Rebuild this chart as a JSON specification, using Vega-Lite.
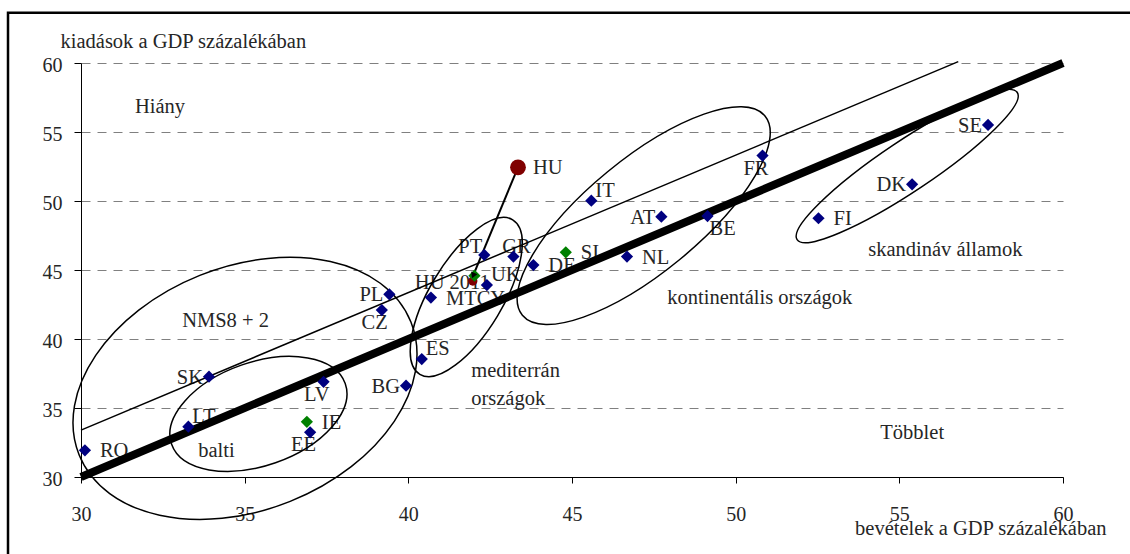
{
  "$schema": "https://vega.github.io/schema/vega-lite/v6.json",
  "width": 982,
  "height": 414,
  "autosize": "none",
  "padding": {"left": 81, "top": 63, "right": 67, "bottom": 77},
  "background": "white",
  "config": {
    "view": {"stroke": null},
    "font": "Liberation Serif",
    "text": {"font": "Liberation Serif", "fontSize": 20.5, "color": "#262626", "baseline": "middle"},
    "axis": {
      "labelFont": "Liberation Serif",
      "labelFontSize": 20,
      "labelColor": "#262626",
      "titleFont": "Liberation Serif",
      "titleFontSize": 20.5,
      "titleFontWeight": "normal",
      "titleColor": "#262626",
      "domainColor": "#000000",
      "tickColor": "#000000",
      "domainWidth": 1,
      "tickWidth": 1
    }
  },
  "datasets": {
    "frame": [
      {"x": 27.77, "x2": 62.5, "y": 63.64, "y2": 24}
    ],
    "countries": [
      {"code": "RO", "x": 30.12, "y": 31.93, "kind": "eu"},
      {"code": "SK", "x": 33.91, "y": 37.27, "kind": "eu"},
      {"code": "LT", "x": 33.28, "y": 33.65, "kind": "eu"},
      {"code": "LV", "x": 37.41, "y": 36.9, "kind": "eu"},
      {"code": "EE", "x": 37.0, "y": 33.24, "kind": "eu"},
      {"code": "IE", "x": 36.9, "y": 34.0, "kind": "green"},
      {"code": "PL", "x": 39.42, "y": 43.24, "kind": "eu"},
      {"code": "CZ", "x": 39.19, "y": 42.1, "kind": "eu"},
      {"code": "BG", "x": 39.93, "y": 36.62, "kind": "eu"},
      {"code": "ES", "x": 40.41, "y": 38.55, "kind": "eu"},
      {"code": "MTCY", "x": 40.69, "y": 43.0, "kind": "eu"},
      {"code": "PT", "x": 42.32, "y": 46.09, "kind": "eu"},
      {"code": "GR", "x": 43.21, "y": 45.97, "kind": "eu"},
      {"code": "UK", "x": 42.4, "y": 43.91, "kind": "eu"},
      {"code": "DE", "x": 43.82, "y": 45.36, "kind": "eu"},
      {"code": "SI", "x": 44.81, "y": 46.28, "kind": "green"},
      {"code": "NL", "x": 46.68, "y": 45.97, "kind": "eu"},
      {"code": "IT", "x": 45.59, "y": 50.02, "kind": "eu"},
      {"code": "AT", "x": 47.73, "y": 48.86, "kind": "eu"},
      {"code": "BE", "x": 49.14, "y": 48.91, "kind": "eu"},
      {"code": "FR", "x": 50.82, "y": 53.29, "kind": "eu"},
      {"code": "FI", "x": 52.53, "y": 48.75, "kind": "eu"},
      {"code": "DK", "x": 55.39, "y": 51.21, "kind": "eu"},
      {"code": "SE", "x": 57.71, "y": 55.51, "kind": "eu"},
      {"code": "HU 2011", "x": 41.97, "y": 44.2, "kind": "hu2011"},
      {"code": "", "x": 42.02, "y": 44.59, "kind": "green"},
      {"code": "HU", "x": 43.35, "y": 52.44, "kind": "hu"}
    ],
    "lines": [
      {"line": "egyensúly", "x": 30, "y": 30},
      {"line": "egyensúly", "x": 60, "y": 60},
      {"line": "párhuzamos", "x": 30, "y": 33.4},
      {"line": "párhuzamos", "x": 56.8, "y": 60.1},
      {"line": "nyíl", "x": 43.35, "y": 52.44},
      {"line": "nyíl", "x": 41.98, "y": 44.6}
    ],
    "ellipses": [
      {"group": "NMS8 + 2", "x": 35.01, "y": 36.42},
      {"group": "balti", "x": 35.42, "y": 34.57},
      {"group": "mediterrán", "x": 41.77, "y": 43.04},
      {"group": "kontinentális", "x": 47.19, "y": 48.94},
      {"group": "skandináv", "x": 55.24, "y": 52.53}
    ],
    "notes": [
      {"text": "Hiány", "x": 31.65, "y": 56.84},
      {"text": "NMS8 + 2", "x": 33.09, "y": 41.27},
      {"text": "balti", "x": 33.58, "y": 31.85},
      {"text": "mediterrán", "x": 41.92, "y": 37.65},
      {"text": "országok", "x": 41.92, "y": 35.62},
      {"text": "kontinentális országok", "x": 47.91, "y": 43.0},
      {"text": "skandináv államok", "x": 54.05, "y": 46.48},
      {"text": "Többlet", "x": 54.42, "y": 33.16}
    ]
  },
  "encoding": {
    "x": {
      "field": "x", "type": "quantitative",
      "scale": {"domain": [30, 60], "nice": false, "zero": false},
      "axis": {
        "title": "bevételek a GDP százalékában",
        "values": [30, 35, 40, 45, 50, 55, 60],
        "grid": false,
        "tickSize": 6,
        "labelPadding": 21,
        "labelFlush": false,
        "titleAlign": "right",
        "titleAnchor": "start",
        "titleX": 1025,
        "titleY": 51,
        "titleBaseline": "middle"
      }
    },
    "y": {
      "field": "y", "type": "quantitative",
      "scale": {"domain": [30, 60], "nice": false, "zero": false},
      "axis": {
        "title": "kiadások a GDP százalékában",
        "titleAngle": 0,
        "titleAlign": "left",
        "titleAnchor": "start",
        "titleX": -21,
        "titleY": -22,
        "titleBaseline": "middle",
        "values": [30, 35, 40, 45, 50, 55, 60],
        "grid": true,
        "gridColor": "#808080",
        "gridDash": [9, 7],
        "gridWidth": 1,
        "tickSize": 7,
        "labelPadding": 12,
        "labelOffset": 2
      }
    }
  },
  "layer": [
    {
      "data": {"name": "frame"},
      "mark": {"type": "rect", "fill": "transparent", "stroke": "#000000", "strokeWidth": 2.5},
      "encoding": {
        "x2": {"field": "x2"},
        "y2": {"field": "y2"}
      }
    },
    {
      "data": {"name": "notes"},
      "mark": {"type": "text", "align": "left"},
      "encoding": {"text": {"field": "text"}}
    },
    {
      "data": {"name": "countries"},
      "transform": [{"filter": {"field": "code", "oneOf": ["RO", "IE", "MTCY", "DE", "SI", "NL", "HU", "FI"]}}],
      "mark": {"type": "text", "align": "left", "dx": 15, "dy": 1},
      "encoding": {"text": {"field": "code"}}
    },
    {
      "data": {"name": "countries"},
      "transform": [{"filter": {"field": "code", "oneOf": ["ES", "UK", "IT", "LT"]}}],
      "mark": {"type": "text", "align": "left", "dx": 4, "dy": -10},
      "encoding": {"text": {"field": "code"}}
    },
    {
      "data": {"name": "countries"},
      "transform": [{"filter": {"field": "code", "oneOf": ["SK", "BG", "DK", "SE", "AT", "PL"]}}],
      "mark": {"type": "text", "align": "right", "dx": -6, "dy": 1},
      "encoding": {"text": {"field": "code"}}
    },
    {
      "data": {"name": "countries"},
      "transform": [{"filter": {"field": "code", "oneOf": ["PT"]}}],
      "mark": {"type": "text", "align": "right", "dx": -2, "dy": -8},
      "encoding": {"text": {"field": "code"}}
    },
    {
      "data": {"name": "countries"},
      "transform": [{"filter": {"field": "code", "oneOf": ["FR", "EE", "LV", "CZ"]}}],
      "mark": {"type": "text", "align": "right", "dx": 6, "dy": 13},
      "encoding": {"text": {"field": "code"}}
    },
    {
      "data": {"name": "countries"},
      "transform": [{"filter": {"field": "code", "oneOf": ["BE"]}}],
      "mark": {"type": "text", "align": "left", "dx": 2, "dy": 13},
      "encoding": {"text": {"field": "code"}}
    },
    {
      "data": {"name": "countries"},
      "transform": [{"filter": {"field": "code", "oneOf": ["GR"]}}],
      "mark": {"type": "text", "align": "center", "dx": 3, "dy": -10},
      "encoding": {"text": {"field": "code"}}
    },
    {
      "data": {"name": "countries"},
      "transform": [{"filter": {"field": "code", "oneOf": ["HU 2011"]}}],
      "mark": {"type": "text", "align": "right", "dx": 17, "dy": 2},
      "encoding": {"text": {"field": "code"}}
    },
    {
      "data": {"name": "ellipses"},
      "transform": [{"filter": {"field": "group", "equal": "NMS8 + 2"}}],
      "mark": {"type": "point", "filled": false, "color": "#000000", "opacity": 1, "strokeWidth": 1.5, "shape": "M-1,0A1,0.681,0,0,1,1,0A1,0.681,0,0,1,-1,0Z", "size": 127744, "angle": -21.8}
    },
    {
      "data": {"name": "ellipses"},
      "transform": [{"filter": {"field": "group", "equal": "balti"}}],
      "mark": {"type": "point", "filled": false, "color": "#000000", "opacity": 1, "strokeWidth": 1.5, "shape": "M-1,0A1,0.562,0,0,1,1,0A1,0.562,0,0,1,-1,0Z", "size": 33840, "angle": -19.3}
    },
    {
      "data": {"name": "ellipses"},
      "transform": [{"filter": {"field": "group", "equal": "mediterrán"}}],
      "mark": {"type": "point", "filled": false, "color": "#000000", "opacity": 1, "strokeWidth": 1.5, "shape": "M-1,0A1,0.405,0,0,1,1,0A1,0.405,0,0,1,-1,0Z", "size": 32496, "angle": -59}
    },
    {
      "data": {"name": "ellipses"},
      "transform": [{"filter": {"field": "group", "equal": "kontinentális"}}],
      "mark": {"type": "point", "filled": false, "color": "#000000", "opacity": 1, "strokeWidth": 1.5, "shape": "M-1,0A1,0.362,0,0,1,1,0A1,0.362,0,0,1,-1,0Z", "size": 98568, "angle": -39.4}
    },
    {
      "data": {"name": "ellipses"},
      "transform": [{"filter": {"field": "group", "equal": "skandináv"}}],
      "mark": {"type": "point", "filled": false, "color": "#000000", "opacity": 1, "strokeWidth": 1.5, "shape": "M-1,0A1,0.191,0,0,1,1,0A1,0.191,0,0,1,-1,0Z", "size": 70120, "angle": -33.75}
    },
    {
      "data": {"name": "lines"},
      "transform": [{"filter": {"field": "line", "equal": "párhuzamos"}}],
      "mark": {"type": "line", "color": "#000000", "strokeWidth": 1.5}
    },
    {
      "data": {"name": "lines"},
      "transform": [{"filter": {"field": "line", "equal": "egyensúly"}}],
      "mark": {"type": "line", "color": "#000000", "strokeWidth": 8, "strokeCap": "butt"}
    },
    {
      "data": {"name": "lines"},
      "transform": [{"filter": {"field": "line", "equal": "nyíl"}}],
      "mark": {"type": "line", "color": "#000000", "strokeWidth": 2}
    },
    {
      "data": {"name": "countries"},
      "transform": [{"filter": {"field": "kind", "equal": "eu"}}],
      "mark": {"type": "point", "shape": "diamond", "filled": true, "color": "#000080", "opacity": 1, "size": 150}
    },
    {
      "data": {"name": "countries"},
      "transform": [{"filter": {"field": "kind", "equal": "hu2011"}}],
      "mark": {"type": "point", "shape": "circle", "filled": true, "color": "#800000", "opacity": 1, "size": 85}
    },
    {
      "data": {"name": "countries"},
      "transform": [{"filter": {"field": "kind", "equal": "green"}}],
      "mark": {"type": "point", "shape": "diamond", "filled": true, "color": "#008000", "opacity": 1, "size": 150}
    },
    {
      "data": {"name": "lines"},
      "transform": [{"filter": {"field": "line", "equal": "nyíl"}}, {"filter": {"field": "y", "lt": 50}}],
      "mark": {"type": "point", "shape": "triangle-down", "filled": true, "color": "#000000", "opacity": 1, "size": 45, "angle": 23}
    },
    {
      "data": {"name": "countries"},
      "transform": [{"filter": {"field": "kind", "equal": "hu"}}],
      "mark": {"type": "point", "shape": "circle", "filled": true, "color": "#800000", "opacity": 1, "size": 250}
    }
  ]
}
